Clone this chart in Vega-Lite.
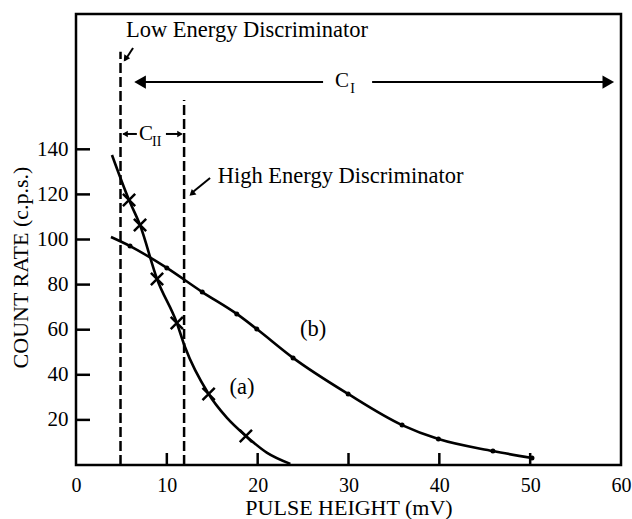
{
  "$schema": "https://vega.github.io/schema/vega-lite/v6.json",
  "width": 545,
  "height": 451,
  "autosize": {"type": "none"},
  "padding": {"left": 76, "top": 14, "right": 11, "bottom": 54},
  "background": "white",
  "config": {
    "view": {"stroke": "black", "strokeWidth": 2.5},
    "font": "Liberation Serif",
    "axis": {
      "labelFont": "Liberation Serif", "labelFontSize": 21, "labelColor": "black",
      "titleFont": "Liberation Serif", "titleFontSize": 22, "titleFontWeight": "normal", "titleColor": "black",
      "grid": false, "domain": false, "ticks": false
    }
  },
  "encoding": {
    "x": {
      "field": "x", "type": "quantitative",
      "scale": {"domain": [0, 60], "nice": false, "zero": true},
      "axis": {"values": [0, 10, 20, 30, 40, 50, 60], "title": "PULSE HEIGHT (mV)", "labelFlush": false, "labelPadding": 10, "labelFontSize": 20, "titleY": 49, "titleBaseline": "alphabetic"}
    },
    "y": {
      "field": "y", "type": "quantitative",
      "scale": {"domain": [0, 200], "nice": false, "zero": true},
      "axis": {"values": [20, 40, 60, 80, 100, 120, 140], "title": "COUNT RATE (c.p.s.)", "labelPadding": 8, "titleX": -49, "titleY": 253, "titleBaseline": "alphabetic"}
    }
  },
  "layer": [
    {
      "data": {"values": [
        {"x": 10, "y": 0}, {"x": 20, "y": 0}, {"x": 30, "y": 0}, {"x": 40, "y": 0}, {"x": 50, "y": 0}
      ]},
      "mark": {"type": "rule", "color": "black", "strokeWidth": 2.5, "y2Offset": -12},
      "encoding": {"y2": {"field": "y"}}
    },
    {
      "data": {"values": [
        {"x": 0, "y": 20}, {"x": 0, "y": 40}, {"x": 0, "y": 60}, {"x": 0, "y": 80}, {"x": 0, "y": 100}, {"x": 0, "y": 120}, {"x": 0, "y": 140}
      ]},
      "mark": {"type": "rule", "color": "black", "strokeWidth": 2.5, "x2Offset": 14},
      "encoding": {"x2": {"field": "x"}}
    },
    {
      "data": {"values": [
        {"x": 4.9, "y": 0, "y2": 183.3},
        {"x": 11.9, "y": 0, "y2": 161.9}
      ]},
      "mark": {"type": "rule", "color": "black", "strokeWidth": 2.5, "strokeDash": [10, 4]},
      "encoding": {"y2": {"field": "y2"}}
    },
    {
      "data": {"values": [
        {"x": 6.6, "y": 169.8, "x2": 27.2, "y2": 169.8},
        {"x": 32.6, "y": 169.8, "x2": 58.9, "y2": 169.8},
        {"x": 5.2, "y": 146.8, "x2": 6.7, "y2": 146.8},
        {"x": 9.9, "y": 146.8, "x2": 11.6, "y2": 146.8},
        {"x": 6.28, "y": 184.9, "x2": 5.4, "y2": 179.5},
        {"x": 14.76, "y": 127.3, "x2": 12.7, "y2": 120.5}
      ]},
      "mark": {"type": "rule", "color": "black", "strokeWidth": 2},
      "encoding": {"x2": {"field": "x2"}, "y2": {"field": "y2"}}
    },
    {
      "data": {"values": [
        {"series": "a", "x": 3.96, "y": 137.5},
        {"series": "a", "x": 5.84, "y": 117.5},
        {"series": "a", "x": 7.05, "y": 106.4},
        {"series": "a", "x": 8.92, "y": 82.5},
        {"series": "a", "x": 11.1, "y": 63},
        {"series": "a", "x": 12.0, "y": 52.3},
        {"series": "a", "x": 14.6, "y": 31.5},
        {"series": "a", "x": 16.6, "y": 21},
        {"series": "a", "x": 18.7, "y": 12.9},
        {"series": "a", "x": 21.0, "y": 5.5},
        {"series": "a", "x": 23.6, "y": 0.5},
        {"series": "b", "x": 3.85, "y": 101.1},
        {"series": "b", "x": 5.95, "y": 97.1},
        {"series": "b", "x": 10.0, "y": 87.4},
        {"series": "b", "x": 13.9, "y": 76.7},
        {"series": "b", "x": 17.7, "y": 67.0},
        {"series": "b", "x": 19.9, "y": 60.3},
        {"series": "b", "x": 23.9, "y": 47.5},
        {"series": "b", "x": 29.96, "y": 31.5},
        {"series": "b", "x": 35.9, "y": 17.7},
        {"series": "b", "x": 39.9, "y": 11.5},
        {"series": "b", "x": 45.9, "y": 6.2},
        {"series": "b", "x": 50.2, "y": 3.1}
      ]},
      "mark": {"type": "line", "color": "black", "strokeWidth": 2.6, "interpolate": "monotone"},
      "encoding": {"detail": {"field": "series"}}
    },
    {
      "data": {"values": [
        {"x": 5.84, "y": 117.5},
        {"x": 7.05, "y": 106.4},
        {"x": 8.92, "y": 82.5},
        {"x": 11.1, "y": 63},
        {"x": 14.6, "y": 31.5},
        {"x": 18.7, "y": 12.9}
      ]},
      "mark": {"type": "point", "shape": "M-1,-1L1,1M-1,1L1,-1", "size": 150, "filled": false, "color": "black", "strokeWidth": 2.5, "opacity": 1}
    },
    {
      "data": {"values": [
        {"x": 5.95, "y": 97.1},
        {"x": 10.0, "y": 87.4},
        {"x": 13.9, "y": 76.7},
        {"x": 17.7, "y": 67.0},
        {"x": 19.9, "y": 60.3},
        {"x": 23.9, "y": 47.5},
        {"x": 29.96, "y": 31.5},
        {"x": 35.9, "y": 17.7},
        {"x": 39.9, "y": 11.5},
        {"x": 45.9, "y": 6.2},
        {"x": 50.2, "y": 3.1}
      ]},
      "mark": {"type": "point", "shape": "circle", "size": 25, "filled": true, "color": "black", "opacity": 1}
    },
    {
      "data": {"values": [{"x": 7.05, "y": 169.8}]},
      "mark": {"type": "point", "shape": "triangle-left", "size": 180, "filled": true, "color": "black", "opacity": 1}
    },
    {
      "data": {"values": [{"x": 58.6, "y": 169.8}]},
      "mark": {"type": "point", "shape": "triangle-right", "size": 180, "filled": true, "color": "black", "opacity": 1}
    },
    {
      "data": {"values": [{"x": 5.4, "y": 146.8}]},
      "mark": {"type": "point", "shape": "triangle-left", "size": 40, "filled": true, "color": "black", "opacity": 1}
    },
    {
      "data": {"values": [{"x": 11.45, "y": 146.8}]},
      "mark": {"type": "point", "shape": "triangle-right", "size": 40, "filled": true, "color": "black", "opacity": 1}
    },
    {
      "data": {"values": [{"x": 5.45, "y": 180.1}]},
      "mark": {"type": "point", "shape": "triangle-down", "size": 50, "angle": 34, "filled": true, "color": "black", "opacity": 1}
    },
    {
      "data": {"values": [{"x": 12.75, "y": 120.3}]},
      "mark": {"type": "point", "shape": "triangle-down", "size": 50, "angle": 49, "filled": true, "color": "black", "opacity": 1}
    },
    {
      "data": {"values": [
        {"x": 5.5, "y": 189.8, "label": "Low Energy Discriminator"},
        {"x": 15.6, "y": 125, "label": "High Energy Discriminator"},
        {"x": 16.9, "y": 31.5, "label": "(a)"},
        {"x": 24.67, "y": 57.2, "label": "(b)"}
      ]},
      "mark": {"type": "text", "align": "left", "baseline": "alphabetic", "font": "Liberation Serif", "fontSize": 22.5, "color": "black"},
      "encoding": {"text": {"field": "label"}}
    },
    {
      "data": {"values": [
        {"x": 28.5, "y": 167.6, "label": "C"},
        {"x": 6.94, "y": 144.1, "label": "C"}
      ]},
      "mark": {"type": "text", "align": "left", "baseline": "alphabetic", "font": "Liberation Serif", "fontSize": 21, "color": "black"},
      "encoding": {"text": {"field": "label"}}
    },
    {
      "data": {"values": [
        {"x": 30.2, "y": 165, "label": "I"},
        {"x": 8.37, "y": 141.5, "label": "II"}
      ]},
      "mark": {"type": "text", "align": "left", "baseline": "alphabetic", "font": "Liberation Serif", "fontSize": 14, "color": "black"},
      "encoding": {"text": {"field": "label"}}
    }
  ]
}
